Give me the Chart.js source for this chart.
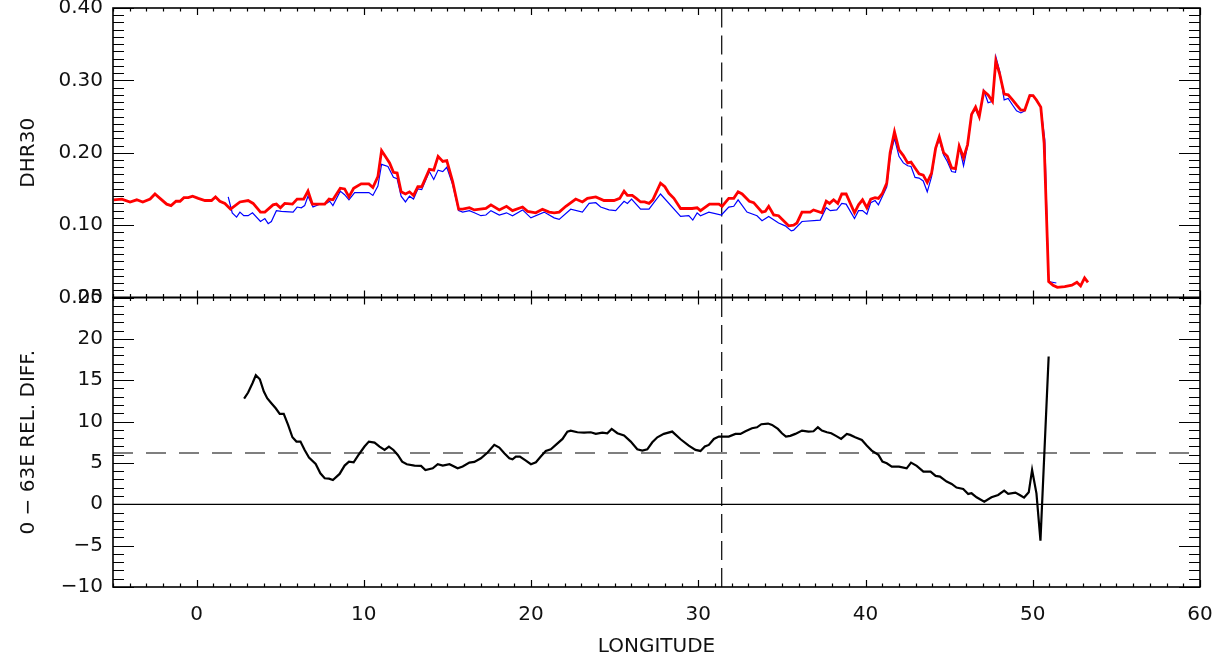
<!DOCTYPE html>
<html>
<head>
<meta charset="utf-8">
<script src="https://cdn.jsdelivr.net/npm/chart.js@4/dist/chart.umd.min.js"></script>
<style>
  html, body { margin: 0; padding: 0; background: #fff; }
</style>
</head>
<body>
<canvas id="myChart" width="1221" height="659"></canvas>
<script>
// top panel: DHR30, two series (red thick, blue thin)
const lonRed = [-4.97,-4.47,-3.98,-3.58,-3.22,-2.78,-2.49,-2.19,-1.79,-1.53,-1.23,-0.99,-0.76,-0.50,-0.24,0.10,0.50,0.89,1.13,1.39,1.69,2.03,2.59,3.08,3.38,3.82,4.08,4.57,4.77,5.01,5.27,5.73,6.01,6.40,6.66,6.92,7.66,7.92,8.15,8.59,8.85,9.11,9.39,9.84,10.30,10.54,10.84,11.06,11.54,11.77,11.99,12.23,12.49,12.73,12.97,13.23,13.46,13.92,14.18,14.44,14.72,14.96,15.31,15.67,15.91,16.31,16.61,17.30,17.60,18.10,18.53,18.89,19.49,19.79,20.28,20.68,21.08,21.38,21.68,22.08,22.67,23.07,23.37,23.87,24.36,24.96,25.30,25.56,25.76,26.05,26.29,26.55,26.79,27.05,27.28,27.74,28.00,28.24,28.54,28.94,29.63,29.93,30.13,30.67,31.23,31.42,31.82,32.12,32.38,32.62,33.05,33.31,33.81,34.01,34.21,34.51,34.80,35.40,35.70,35.90,36.20,36.69,36.89,37.39,37.65,37.85,38.09,38.34,38.58,38.84,39.34,39.58,39.82,40.08,40.31,40.57,40.77,41.01,41.27,41.47,41.73,42.00,42.26,42.52,42.72,42.96,43.20,43.45,43.69,43.95,44.19,44.41,44.67,44.89,45.15,45.38,45.60,45.86,46.10,46.34,46.58,46.80,47.07,47.33,47.59,47.79,48.03,48.29,48.53,48.79,49.03,49.29,49.52,49.82,50.02,50.22,50.48,50.68,50.95,51.21,51.47,51.91,52.34,52.64,52.86,53.10,53.30];
const dhrRed = [0.135,0.136,0.132,0.135,0.132,0.136,0.143,0.137,0.129,0.127,0.133,0.133,0.138,0.138,0.140,0.137,0.134,0.134,0.139,0.133,0.130,0.122,0.132,0.134,0.130,0.118,0.118,0.128,0.129,0.124,0.130,0.129,0.136,0.136,0.147,0.129,0.129,0.136,0.135,0.151,0.150,0.139,0.151,0.157,0.157,0.152,0.167,0.203,0.186,0.173,0.172,0.146,0.143,0.146,0.141,0.153,0.153,0.177,0.176,0.195,0.188,0.189,0.160,0.122,0.122,0.124,0.121,0.123,0.128,0.121,0.126,0.120,0.125,0.119,0.117,0.122,0.118,0.117,0.118,0.126,0.136,0.132,0.137,0.139,0.134,0.134,0.137,0.147,0.141,0.141,0.137,0.132,0.132,0.130,0.135,0.158,0.153,0.144,0.137,0.123,0.123,0.124,0.120,0.129,0.129,0.126,0.137,0.137,0.146,0.143,0.133,0.131,0.118,0.119,0.126,0.114,0.113,0.099,0.100,0.103,0.118,0.118,0.121,0.117,0.133,0.130,0.135,0.130,0.143,0.143,0.117,0.128,0.135,0.124,0.136,0.138,0.137,0.144,0.158,0.200,0.229,0.204,0.196,0.186,0.187,0.179,0.171,0.169,0.159,0.172,0.206,0.222,0.200,0.195,0.179,0.178,0.209,0.193,0.211,0.253,0.263,0.250,0.285,0.280,0.271,0.327,0.308,0.281,0.280,0.273,0.266,0.259,0.259,0.279,0.279,0.273,0.263,0.213,0.022,0.017,0.014,0.015,0.017,0.021,0.016,0.027,0.021];

const lonBlue = [1.89,2.13,2.39,2.59,2.82,3.08,3.34,3.82,4.08,4.28,4.47,4.77,5.07,5.77,6.01,6.26,6.46,6.66,6.96,7.36,7.76,7.96,8.15,8.59,8.85,9.11,9.45,9.84,10.30,10.54,10.84,11.06,11.44,11.77,11.99,12.23,12.49,12.73,12.97,13.23,13.46,13.92,14.18,14.44,14.72,14.96,15.31,15.67,15.91,16.31,16.61,17.00,17.30,17.60,18.10,18.53,18.89,19.49,19.99,20.78,21.38,21.68,22.37,23.07,23.47,23.87,24.16,24.66,25.06,25.56,25.76,26.01,26.55,27.05,27.74,28.94,29.43,29.67,29.93,30.13,30.63,31.38,31.82,32.12,32.38,32.91,33.51,33.81,34.21,34.80,35.20,35.56,35.70,36.20,37.29,37.65,37.89,38.28,38.58,38.84,39.34,39.58,39.82,40.08,40.31,40.57,40.77,41.01,41.27,41.47,41.73,42.00,42.26,42.52,42.72,42.96,43.20,43.45,43.69,43.95,44.19,44.41,44.67,44.89,45.15,45.38,45.60,45.86,46.10,46.34,46.58,46.80,47.07,47.33,47.59,47.79,48.03,48.29,48.53,48.79,49.03,49.29,49.52,49.82,50.02,50.22,50.48,50.72,50.95,51.41];
const dhrBlue = [0.139,0.117,0.111,0.118,0.113,0.113,0.117,0.105,0.109,0.102,0.105,0.120,0.119,0.118,0.125,0.124,0.127,0.140,0.125,0.129,0.130,0.133,0.127,0.147,0.142,0.135,0.145,0.145,0.145,0.141,0.154,0.184,0.181,0.166,0.164,0.140,0.132,0.140,0.136,0.150,0.149,0.174,0.163,0.176,0.174,0.180,0.156,0.120,0.118,0.120,0.117,0.113,0.114,0.120,0.114,0.117,0.113,0.121,0.110,0.118,0.110,0.108,0.122,0.118,0.130,0.131,0.125,0.121,0.120,0.133,0.130,0.136,0.122,0.122,0.143,0.112,0.113,0.107,0.117,0.113,0.118,0.114,0.125,0.126,0.135,0.118,0.113,0.106,0.112,0.103,0.099,0.092,0.093,0.105,0.107,0.124,0.120,0.121,0.130,0.129,0.109,0.120,0.120,0.115,0.131,0.134,0.128,0.140,0.153,0.195,0.220,0.195,0.186,0.182,0.181,0.166,0.165,0.161,0.146,0.167,0.206,0.218,0.197,0.188,0.174,0.173,0.209,0.182,0.209,0.253,0.260,0.249,0.286,0.269,0.271,0.333,0.312,0.273,0.275,0.266,0.258,0.255,0.258,0.280,0.279,0.272,0.263,0.218,0.022,0.020];

// bottom panel: relative difference (%)
const lonDiff = [2.84,3.08,3.34,3.54,3.78,4.02,4.22,4.47,4.73,4.97,5.21,5.47,5.73,5.97,6.21,6.46,6.72,7.12,7.40,7.66,7.92,8.15,8.55,8.85,9.11,9.39,9.71,10.04,10.30,10.64,10.94,11.24,11.50,11.77,12.03,12.29,12.57,13.03,13.42,13.68,14.12,14.42,14.72,15.12,15.61,15.91,16.31,16.61,17.00,17.40,17.80,18.10,18.40,18.70,18.89,19.09,19.33,19.69,19.99,20.29,20.58,20.88,21.18,21.48,21.88,22.17,22.37,22.77,23.17,23.57,23.87,24.26,24.56,24.82,25.16,25.56,25.96,26.35,26.65,26.95,27.25,27.55,27.94,28.44,28.94,29.43,29.83,30.13,30.39,30.63,30.93,31.23,31.82,32.22,32.52,32.82,33.21,33.51,33.77,34.17,34.41,34.76,35.00,35.24,35.50,35.80,36.20,36.59,36.89,37.15,37.39,37.69,37.95,38.23,38.54,38.88,39.08,39.38,39.78,40.07,40.37,40.77,41.01,41.27,41.57,42.00,42.46,42.72,43.06,43.46,43.89,44.19,44.45,44.85,45.15,45.44,45.84,46.14,46.34,46.64,47.10,47.53,47.93,48.29,48.53,48.96,49.22,49.48,49.76,49.96,50.22,50.46,50.95];
const relDiff = [12.78,13.51,14.64,15.60,15.12,13.63,12.82,12.22,11.61,10.93,10.93,9.60,8.10,7.58,7.58,6.57,5.65,4.88,3.75,3.15,3.10,2.94,3.67,4.68,5.16,5.08,6.05,6.98,7.58,7.46,6.98,6.57,6.98,6.57,5.97,5.16,4.84,4.68,4.64,4.15,4.35,4.84,4.68,4.84,4.35,4.56,5.04,5.12,5.56,6.25,7.18,6.85,6.17,5.56,5.44,5.77,5.77,5.28,4.84,5.08,5.77,6.45,6.65,7.18,7.90,8.79,8.91,8.71,8.67,8.71,8.51,8.67,8.59,9.11,8.59,8.31,7.58,6.65,6.49,6.65,7.50,8.10,8.51,8.79,7.86,7.10,6.57,6.45,6.98,7.18,7.90,8.19,8.19,8.51,8.51,8.83,9.19,9.31,9.68,9.76,9.60,9.11,8.59,8.19,8.27,8.51,8.91,8.79,8.83,9.31,8.91,8.71,8.59,8.27,7.90,8.51,8.39,8.10,7.78,7.10,6.49,5.97,5.16,4.96,4.56,4.56,4.35,5.04,4.64,3.95,3.95,3.43,3.35,2.74,2.46,2.02,1.85,1.25,1.33,0.85,0.32,0.85,1.13,1.65,1.25,1.41,1.13,0.81,1.45,4.15,1.33,-4.40,17.86];

// reference lines
const lonMark = 31.4;
const diffMean = 6.2;

// axis ranges and tick labels
const lonRange = [-5, 60];
const lonTicks = [0, 10, 20, 30, 40, 50, 60];
const dhrRange = [0, 0.4];
const dhrTicks = [0, 0.1, 0.2, 0.3, 0.4];
const diffRange = [-10, 25];
const diffTicks = [-10, -5, 0, 5, 10, 15, 20, 25];

const pts = (xs, ys) => xs.map((x, i) => ({ x: x, y: ys[i] }));

Chart.defaults.font.family = "'DejaVu Sans', sans-serif";
Chart.defaults.font.size = 20;
Chart.defaults.color = '#111';

// IDL style box with inward ticks on every side of each panel
const frameTicks = {
  id: 'frameTicks',
  afterDatasetsDraw(chart) {
    const { ctx, chartArea, scales } = chart;
    const xs = scales.x;
    const L = chartArea.left, R = chartArea.right;
    ctx.save();
    ctx.strokeStyle = '#000';
    const panels = [
      { s: scales.y, major: dhrTicks, step: 0.01, min: dhrRange[0], max: dhrRange[1] },
      { s: scales.y2, major: diffTicks, step: 1, min: diffRange[0], max: diffRange[1] }
    ];
    panels.forEach(p => {
      const T = p.s.top, B = p.s.bottom;
      ctx.lineWidth = 1.6;
      ctx.strokeRect(L, T, R - L, B - T);
      ctx.lineWidth = 1.2;
      ctx.beginPath();
      const n = Math.round((p.max - p.min) / p.step);
      for (let i = 0; i <= n; i++) {
        const v = p.min + i * p.step;
        const isMajor = p.major.some(m => Math.abs(m - v) < p.step / 10);
        const len = isMajor ? 21 : 11;
        const yy = Math.round(p.s.getPixelForValue(v)) + 0.5;
        ctx.moveTo(L, yy); ctx.lineTo(L + len, yy);
        ctx.moveTo(R, yy); ctx.lineTo(R - len, yy);
      }
      for (let v = lonRange[0]; v <= lonRange[1]; v++) {
        const isMajor = lonTicks.includes(v);
        const len = isMajor ? 7 : 3.5;
        const xx = Math.round(xs.getPixelForValue(v)) + 0.5;
        ctx.moveTo(xx, T); ctx.lineTo(xx, T + len);
        ctx.moveTo(xx, B); ctx.lineTo(xx, B - len);
      }
      ctx.stroke();
    });
    ctx.restore();
  }
};

const fixedTicks = (list) => (scale) => { scale.ticks = list.map(v => ({ value: v })); };
const fitY = (s) => { s.width = 113; s.paddingTop = 0; s.paddingBottom = 0; };

new Chart('myChart', {
  type: 'line',
  data: {
    datasets: [
      { data: pts(lonRed, dhrRed), yAxisID: 'y', borderColor: '#ff0000', borderWidth: 2.8, pointRadius: 0, tension: 0 },
      { data: pts(lonBlue, dhrBlue), yAxisID: 'y', borderColor: '#0000ff', borderWidth: 1.2, pointRadius: 0, tension: 0 },
      { data: pts([lonMark, lonMark], dhrRange), yAxisID: 'y', borderColor: '#000', borderWidth: 1.2, borderDash: [19, 8], pointRadius: 0 },
      { data: pts(lonDiff, relDiff), yAxisID: 'y2', borderColor: '#000', borderWidth: 2.2, pointRadius: 0, tension: 0 },
      { data: pts(lonRange, [0, 0]), yAxisID: 'y2', borderColor: '#000', borderWidth: 1.2, pointRadius: 0 },
      { data: pts(lonRange, [diffMean, diffMean]), yAxisID: 'y2', borderColor: '#000', borderWidth: 1.2, borderDash: [20, 13], pointRadius: 0 },
      { data: pts([lonMark, lonMark], diffRange), yAxisID: 'y2', borderColor: '#000', borderWidth: 1.2, borderDash: [19, 8], pointRadius: 0 }
    ]
  },
  options: {
    responsive: false,
    animation: false,
    devicePixelRatio: 1,
    layout: { padding: { top: 8, right: 21, left: 0, bottom: 0 } },
    plugins: { legend: { display: false }, tooltip: { enabled: false } },
    scales: {
      x: {
        type: 'linear', min: lonRange[0], max: lonRange[1],
        afterBuildTicks: fixedTicks(lonTicks),
        afterFit: (s) => { s.height = 72; s.paddingLeft = 0; s.paddingRight = 0; },
        grid: { display: false, drawTicks: false },
        border: { display: false },
        ticks: { padding: 16, maxRotation: 0, autoSkip: false },
        title: { display: true, text: 'LONGITUDE', padding: { top: 0, bottom: 0 } }
      },
      // left axes are stacked in reverse order: the last one ends up on top
      y2: {
        type: 'linear', position: 'left', stack: 'panels', stackWeight: 1,
        min: diffRange[0], max: diffRange[1],
        afterBuildTicks: fixedTicks(diffTicks),
        afterFit: fitY,
        grid: { display: false, drawTicks: false },
        border: { display: false },
        ticks: { padding: 10, autoSkip: false, callback: (v) => String(v).replace('-', '\u2212') },
        title: { display: true, text: '0 \u2212 63E REL. DIFF.', padding: { top: 17, bottom: 0 } }
      },
      y: {
        type: 'linear', position: 'left', stack: 'panels', stackWeight: 1,
        min: dhrRange[0], max: dhrRange[1],
        afterBuildTicks: fixedTicks(dhrTicks),
        afterFit: fitY,
        grid: { display: false, drawTicks: false },
        border: { display: false },
        ticks: { padding: 10, autoSkip: false, callback: (v) => v.toFixed(2) },
        title: { display: true, text: 'DHR30', padding: { top: 17, bottom: 0 } }
      }
    }
  },
  plugins: [frameTicks]
});
</script>
</body>
</html>
